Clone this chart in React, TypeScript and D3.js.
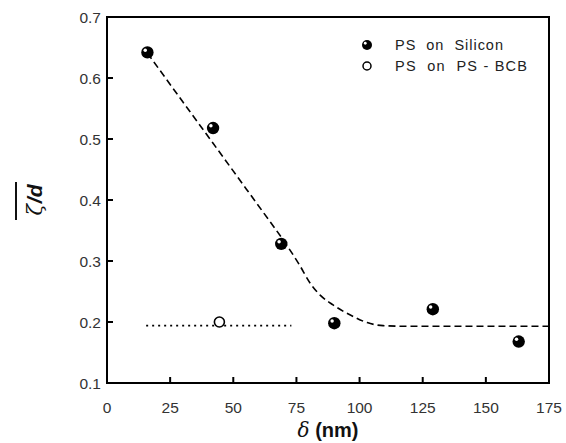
import React from "react";
import * as d3 from "d3";

const siliconX = [16, 42, 69, 90, 129, 163];
const siliconY = [0.642, 0.518, 0.328, 0.198, 0.221, 0.168];
const bcbX = [44.5];
const bcbY = [0.2];
const fitX = [16, 30, 42, 52, 62, 70, 76, 80.7, 84.4, 89.5, 97.5, 103, 109.3, 120, 175];
const fitY = [0.641, 0.561, 0.493, 0.436, 0.379, 0.333, 0.295, 0.262, 0.244, 0.228, 0.209, 0.199, 0.194, 0.193, 0.193];
const refX = [15.5, 73];
const refY = [0.194, 0.194];
const xTicks = [0, 25, 50, 75, 100, 125, 150, 175];
const yTicks = [0.1, 0.2, 0.3, 0.4, 0.5, 0.6, 0.7];
const legendLabels = ["PS  on  Silicon", "PS  on  PS - BCB"];

export default function App() {
  const W = 566, H = 443;
  const m = { left: 107, right: 549, top: 17, bottom: 383 };
  const x = d3.scaleLinear().domain([0, 175]).range([m.left, m.right]);
  const y = d3.scaleLinear().domain([0.1, 0.7]).range([m.bottom, m.top]);
  const font = "Liberation Sans, Arial, sans-serif";

  const fitLine = d3
    .line<number>()
    .x((_, i) => x(fitX[i]))
    .y((_, i) => y(fitY[i]))
    .curve(d3.curveMonotoneX);
  const refLine = d3
    .line<number>()
    .x((_, i) => x(refX[i]))
    .y((_, i) => y(refY[i]));

  const Sphere = ({ cx, cy, r }: { cx: number; cy: number; r: number }) => (
    <g>
      <circle cx={cx} cy={cy} r={r} fill="#000" />
      <circle cx={cx - r * 0.35} cy={cy - r * 0.35} r={r * 0.28} fill="#fff" />
    </g>
  );

  return (
    <svg
      width={W}
      height={H}
      style={{ position: "absolute", left: 0, top: 0, background: "#fff" }}
      fontFamily={font}
    >
      <rect x={0} y={0} width={W} height={H} fill="#fff" />
      <path d={fitLine(fitX) || ""} fill="none" stroke="#000" strokeWidth={1.6} strokeDasharray="7,4" />
      <path d={refLine(refX) || ""} fill="none" stroke="#000" strokeWidth={1.8} strokeDasharray="2,4" />

      <rect x={m.left} y={m.top} width={m.right - m.left} height={m.bottom - m.top} fill="none" stroke="#000" strokeWidth={2} />

      {xTicks.map((t) => (
        <g key={"x" + t}>
          <line x1={x(t)} x2={x(t)} y1={m.bottom} y2={m.bottom - 6} stroke="#000" strokeWidth={2} />
          <text x={x(t)} y={413} fontSize={15.5} textAnchor="middle" fill="#333">
            {t}
          </text>
        </g>
      ))}
      {yTicks.map((t) => (
        <g key={"y" + t}>
          <line x1={m.left} x2={m.left + 6} y1={y(t)} y2={y(t)} stroke="#000" strokeWidth={2} />
          <text x={101} y={y(t) + 5.5} fontSize={15.5} textAnchor="end" fill="#333">
            {t.toFixed(1)}
          </text>
        </g>
      ))}

      {siliconX.map((v, i) => (
        <Sphere key={"s" + i} cx={x(v)} cy={y(siliconY[i])} r={6.2} />
      ))}
      {bcbX.map((v, i) => (
        <circle key={"b" + i} cx={x(v)} cy={y(bcbY[i])} r={5} fill="#fff" stroke="#000" strokeWidth={1.6} />
      ))}

      <Sphere cx={367} cy={45} r={5} />
      <text x={395} y={50} fontSize={14.5} fill="#222" style={{ whiteSpace: "pre" }} textLength={108} lengthAdjust="spacing">{legendLabels[0]}</text>
      <circle cx={367} cy={66} r={4} fill="#fff" stroke="#000" strokeWidth={1.5} />
      <text x={395} y={71} fontSize={14.5} fill="#222" style={{ whiteSpace: "pre" }} textLength={132} lengthAdjust="spacing">{legendLabels[1]}</text>

      <text x={328} y={437} fontSize={20} textAnchor="middle" fontWeight="bold" fill="#111" style={{ whiteSpace: "pre" }}>
        <tspan fontStyle="italic" fontWeight="normal" fontFamily="DejaVu Serif, serif">δ</tspan>
        <tspan> (nm)</tspan>
      </text>

      <g transform="translate(42,200) rotate(-90)">
        <text x={0} y={0} fontSize={21} textAnchor="middle" fontWeight="bold" fontStyle="italic" fill="#111">
          <tspan fontWeight="normal" fontFamily="DejaVu Serif, serif">ζ</tspan>
          <tspan dx={1}>/d</tspan>
        </text>
        <line x1={-20} x2={18} y1={-26} y2={-26} stroke="#111" strokeWidth={2} />
      </g>
    </svg>
  );
}
